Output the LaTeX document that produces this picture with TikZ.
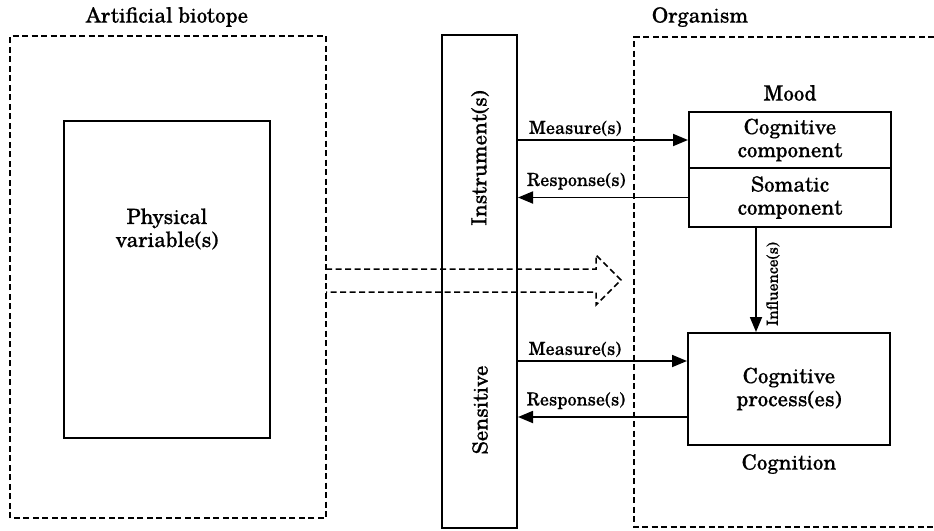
\documentclass[tikz,border=0pt]{standalone}
\usepackage{fontspec}
\setmainfont[FakeBold=0.5]{TeX Gyre Schola}
\usetikzlibrary{arrows.meta,calc}
\begin{document}
\begin{tikzpicture}[x=1pt,y=-1pt,
  solidbox/.style={draw,line width=2pt,inner sep=0pt},
  dashline/.style={line width=1.5pt,dash pattern=on 6pt off 3.5pt},
  maintext/.style={font=\fontsize{21}{23}\selectfont,align=center,inner sep=0pt},
  labtext/.style={font=\fontsize{18}{20}\selectfont,inner sep=0pt},
  inftext/.style={font=\fontsize{15.5}{17}\selectfont,inner sep=0pt},
  arr/.style={line width=1.8pt,-{Triangle[length=15pt,width=12pt]}}]
\useasboundingbox (0,0) rectangle (934,530);
% titles
\node[maintext] (tbio) at (167,17) {Artificial biotope};
\node[maintext] (torg) at (700,17) {Organism};
% artificial biotope dashed box
\draw[dashline] (10,518) -- (10,36) -- (326,36) -- (326,518) -- cycle;
% physical variable box
\node[solidbox,minimum width=206pt,minimum height=317pt] (phys) at (167,279.5) {};
\node[maintext] (physt) at (167,229) {Physical\\variable(s)};
% organism dashed box
\draw[dashline] (934,37) -- (634,37) -- (634,527) -- (934,527);
% instrument bar
\node[solidbox,minimum width=75pt,minimum height=493pt] (bar) at (479.5,281.5) {};
\node[maintext,rotate=90] (tinst) at (480,158) {Instrument(s)};
\node[maintext,rotate=90] (tsens) at (480,410) {Sensitive};
% mood boxes
\node[maintext] (tmood) at (790,93) {Mood};
\node[solidbox,minimum width=202pt,minimum height=56pt,maintext] (cogc) at (790,140) {Cognitive\\component};
\node[solidbox,minimum width=202pt,minimum height=59pt,maintext] (soma) at (790,197.5) {Somatic\\component};
% cognitive process
\node[solidbox,minimum width=202pt,minimum height=112pt,maintext] (proc) at (789,389) {Cognitive\\process(es)};
\node[maintext] (tcogn) at (789,464) {Cognition};
% arrows
\draw[arr] (bar.east |- cogc.west) -- node[labtext,above=3pt,pos=0.337] {Measure(s)} (cogc.west);
\draw[arr] (soma.west) -- node[labtext,above=7pt,pos=0.657] {Response(s)} (bar.east |- soma.west);
\draw[arr] ([yshift=28pt]bar.east |- proc.west) -- node[labtext,above=3pt,pos=0.337] {Measure(s)} ([yshift=28pt]proc.west);
\draw[arr] ([yshift=-28pt]proc.west) -- node[labtext,above=7pt,pos=0.657] {Response(s)} ([yshift=-28pt]bar.east |- proc.west);
\draw[arr] (soma.south -| 756,0) -- (proc.north -| 756,0);
\node[inftext,rotate=90] (tinf) at (773,284) {Influence(s)};
% hollow dashed arrow
\draw[dashline] (326,269) -- (596,269) -- (596,255) -- (621,280) -- (596,305) -- (596,292) -- (326,292);
\end{tikzpicture}
\end{document}
